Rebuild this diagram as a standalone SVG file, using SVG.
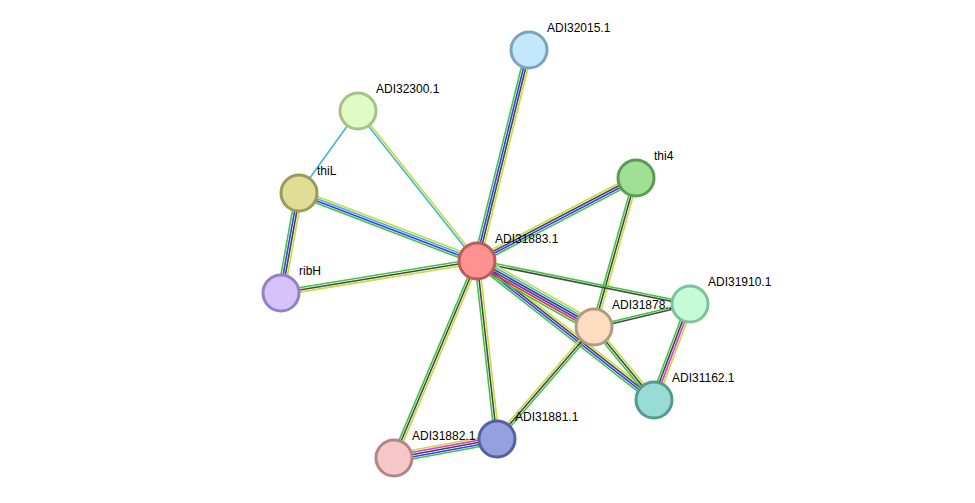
<svg xmlns="http://www.w3.org/2000/svg" width="975" height="503" viewBox="0 0 975 503">
<style>
line{stroke-width:1.6;fill:none}
.g{stroke:#3cc83c}.b{stroke:#3a3aff}.k{stroke:#474747}.y{stroke:#c5dc3c}.c{stroke:#40b4dc}.m{stroke:#e03ce0}.r{stroke:#ff2a2a}
circle{stroke-width:3}
text{font-family:"Liberation Sans",Arial,sans-serif;font-size:12px;fill:#000}
</style>
<rect width="975" height="503" fill="#fff"/>
<g id="connectors">
<g transform="translate(477,261) rotate(-76.16)"><line class="g" x1="0" y1="-3.3" x2="217.3" y2="-3.3"/><line class="b" x1="0" y1="-1.1" x2="217.3" y2="-1.1"/><line class="k" x1="0" y1="1.1" x2="217.3" y2="1.1"/><line class="y" x1="0" y1="3.3" x2="217.3" y2="3.3"/></g>
<g transform="translate(477,261) rotate(-128.43)"><line class="c" x1="0" y1="-1.1" x2="191.5" y2="-1.1"/><line class="y" x1="0" y1="1.1" x2="191.5" y2="1.1"/></g>
<g transform="translate(358,111) rotate(125.73)"><line class="c" x1="0" y1="0" x2="101" y2="0"/></g>
<g transform="translate(477,261) rotate(-159.09)"><line class="g" x1="0" y1="-3.3" x2="190.5" y2="-3.3"/><line class="b" x1="0" y1="-1.1" x2="190.5" y2="-1.1"/><line class="c" x1="0" y1="1.1" x2="190.5" y2="1.1"/><line class="y" x1="0" y1="3.3" x2="190.5" y2="3.3"/></g>
<g transform="translate(299,193) rotate(100.2)"><line class="y" x1="0" y1="-3.3" x2="101.6" y2="-3.3"/><line class="k" x1="0" y1="-1.1" x2="101.6" y2="-1.1"/><line class="b" x1="0" y1="1.1" x2="101.6" y2="1.1"/><line class="g" x1="0" y1="3.3" x2="101.6" y2="3.3"/></g>
<g transform="translate(477,261) rotate(170.73)"><line class="y" x1="0" y1="-2.2" x2="198.6" y2="-2.2"/><line class="k" x1="0" y1="0" x2="198.6" y2="0"/><line class="g" x1="0" y1="2.2" x2="198.6" y2="2.2"/></g>
<g transform="translate(477,261) rotate(-27.57)"><line class="y" x1="0" y1="-3.3" x2="179.4" y2="-3.3"/><line class="k" x1="0" y1="-1.1" x2="179.4" y2="-1.1"/><line class="b" x1="0" y1="1.1" x2="179.4" y2="1.1"/><line class="g" x1="0" y1="3.3" x2="179.4" y2="3.3"/></g>
<g transform="translate(636,178) rotate(105.74)"><line class="y" x1="0" y1="-2.2" x2="154.8" y2="-2.2"/><line class="k" x1="0" y1="0" x2="154.8" y2="0"/><line class="g" x1="0" y1="2.2" x2="154.8" y2="2.2"/></g>
<g transform="translate(477,261) rotate(11.41)"><line class="g" x1="0" y1="-1.1" x2="217.3" y2="-1.1"/><line class="k" x1="0" y1="1.1" x2="217.3" y2="1.1"/></g>
<g transform="translate(477,261) rotate(38.14)"><line class="y" x1="0" y1="-3.3" x2="225.1" y2="-3.3"/><line class="k" x1="0" y1="-1.1" x2="225.1" y2="-1.1"/><line class="b" x1="0" y1="1.1" x2="225.1" y2="1.1"/><line class="g" x1="0" y1="3.3" x2="225.1" y2="3.3"/></g>
<g transform="translate(477,261) rotate(29.43)"><line class="y" x1="0" y1="-5.5" x2="134.3" y2="-5.5"/><line class="c" x1="0" y1="-3.3" x2="134.3" y2="-3.3"/><line class="k" x1="0" y1="-1.1" x2="134.3" y2="-1.1"/><line class="b" x1="0" y1="1.1" x2="134.3" y2="1.1"/><line class="r" x1="0" y1="3.3" x2="134.3" y2="3.3"/><line class="g" x1="0" y1="5.5" x2="134.3" y2="5.5"/></g>
<g transform="translate(594,327) rotate(-13.47)"><line class="g" x1="0" y1="-1.1" x2="98.7" y2="-1.1"/><line class="k" x1="0" y1="1.1" x2="98.7" y2="1.1"/></g>
<g transform="translate(690,304) rotate(110.56)"><line class="y" x1="0" y1="-3.3" x2="102.5" y2="-3.3"/><line class="m" x1="0" y1="-1.1" x2="102.5" y2="-1.1"/><line class="k" x1="0" y1="1.1" x2="102.5" y2="1.1"/><line class="g" x1="0" y1="3.3" x2="102.5" y2="3.3"/></g>
<g transform="translate(594,327) rotate(50.58)"><line class="y" x1="0" y1="-2.2" x2="94.5" y2="-2.2"/><line class="k" x1="0" y1="0" x2="94.5" y2="0"/><line class="g" x1="0" y1="2.2" x2="94.5" y2="2.2"/></g>
<g transform="translate(594,327) rotate(130.9)"><line class="g" x1="0" y1="-2.2" x2="148.2" y2="-2.2"/><line class="k" x1="0" y1="0" x2="148.2" y2="0"/><line class="y" x1="0" y1="2.2" x2="148.2" y2="2.2"/></g>
<g transform="translate(477,261) rotate(83.59)"><line class="y" x1="0" y1="-2.2" x2="179.1" y2="-2.2"/><line class="k" x1="0" y1="0" x2="179.1" y2="0"/><line class="g" x1="0" y1="2.2" x2="179.1" y2="2.2"/></g>
<g transform="translate(477,261) rotate(112.85)"><line class="y" x1="0" y1="-2.2" x2="213.8" y2="-2.2"/><line class="k" x1="0" y1="0" x2="213.8" y2="0"/><line class="g" x1="0" y1="2.2" x2="213.8" y2="2.2"/></g>
<g transform="translate(394,458) rotate(-10.45)"><line class="y" x1="0" y1="-4.4" x2="104.7" y2="-4.4"/><line class="m" x1="0" y1="-2.2" x2="104.7" y2="-2.2"/><line class="k" x1="0" y1="0" x2="104.7" y2="0"/><line class="b" x1="0" y1="2.2" x2="104.7" y2="2.2"/><line class="g" x1="0" y1="4.4" x2="104.7" y2="4.4"/></g>
</g>
<g id="n-ADI31883.1"><circle cx="477" cy="261" r="18" fill="#fe9191" stroke="#bd5a5a"/><text x="495" y="243">ADI31883.1</text></g>
<g id="n-ADI32015.1"><circle cx="529" cy="50" r="18" fill="#c3e8fc" stroke="#7ba3bd"/><text x="547" y="32">ADI32015.1</text></g>
<g id="n-ADI32300.1"><circle cx="358" cy="111" r="18" fill="#e0fcc4" stroke="#a3c484"/><text x="376" y="93">ADI32300.1</text></g>
<g id="n-thiL"><circle cx="299" cy="193" r="18" fill="#dfdc95" stroke="#9c9a5a"/><text x="317" y="175">thiL</text></g>
<g id="n-ribH"><circle cx="281" cy="293" r="18" fill="#d6c3fc" stroke="#9580c0"/><text x="299" y="275">ribH</text></g>
<g id="n-thi4"><circle cx="636" cy="178" r="18" fill="#a0e095" stroke="#5c9c52"/><text x="654" y="160">thi4</text></g>
<g id="n-ADI31878.1"><circle cx="594" cy="327" r="18" fill="#fddcbf" stroke="#b29a80"/><text x="612" y="309">ADI31878.1</text></g>
<g id="n-ADI31910.1"><circle cx="690" cy="304" r="18" fill="#c3fcd6" stroke="#80c09a"/><text x="708" y="286">ADI31910.1</text></g>
<g id="n-ADI31162.1"><circle cx="654" cy="400" r="18" fill="#97ddd4" stroke="#55998f"/><text x="672" y="382">ADI31162.1</text></g>
<g id="n-ADI31881.1"><circle cx="497" cy="439" r="18" fill="#95a0df" stroke="#5560a0"/><text x="515" y="421">ADI31881.1</text></g>
<g id="n-ADI31882.1"><circle cx="394" cy="458" r="18" fill="#f7c7c7" stroke="#b58585"/><text x="412" y="440">ADI31882.1</text></g>
</svg>
